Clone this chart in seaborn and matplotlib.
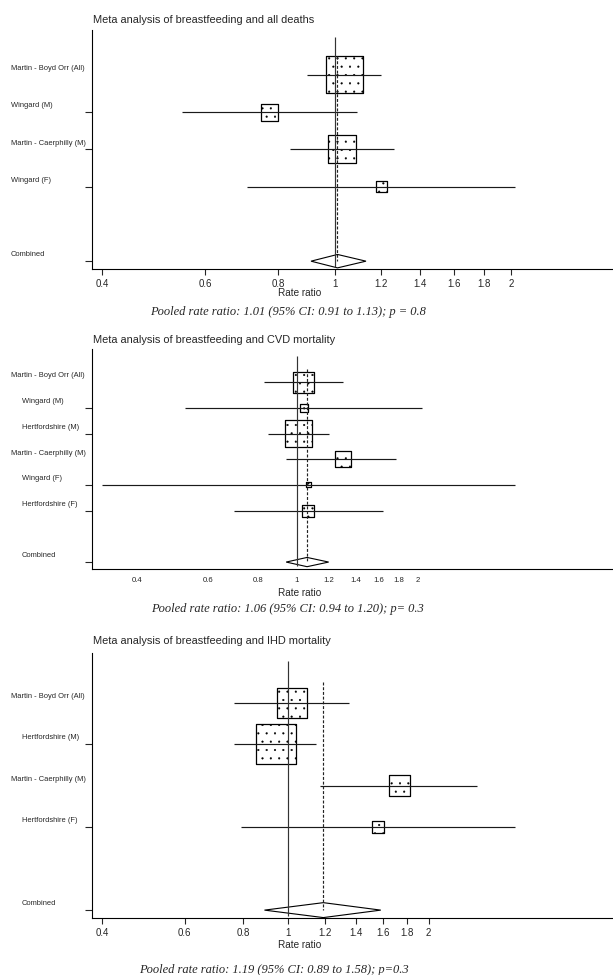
import numpy as np
import matplotlib
matplotlib.use("Agg")
import matplotlib.pyplot as plt
import matplotlib.transforms as mtransforms
import seaborn as sns

# data
# panel 1 - all deaths
studies_all = ["Martin - Boyd Orr (All)", "Wingard (M)", "Martin - Caerphilly (M)", "Wingard (F)"]
rr_all = [1.04, 0.774, 1.03, 1.20]
lo_all = [0.896, 0.548, 0.838, 0.707]
hi_all = [1.20, 1.09, 1.26, 2.03]
wt_all = [37, 17, 28, 11]          # relative box size (weight)
pooled_all = [1.01, 0.91, 1.13]
caption_all = "Pooled rate ratio: 1.01 (95% CI: 0.91 to 1.13); p = 0.8"

# panel 2 - CVD mortality
studies_cvd = ["Martin - Boyd Orr (All)", "Wingard (M)", "Hertfordshire (M)",
               "Martin - Caerphilly (M)", "Wingard (F)", "Hertfordshire (F)"]
rr_cvd = [1.04, 1.04, 1.01, 1.30, 1.07, 1.065]
lo_cvd = [0.827, 0.525, 0.846, 0.94, 0.326, 0.696]
hi_cvd = [1.30, 2.05, 1.20, 1.77, 3.50, 1.64]
wt_cvd = [21, 8, 27, 16, 5, 12]
pooled_cvd = [1.06, 0.94, 1.20]
caption_cvd = "Pooled rate ratio: 1.06 (95% CI: 0.94 to 1.20); p= 0.3"

# panel 3 - IHD mortality
studies_ihd = ["Martin - Boyd Orr (All)", "Hertfordshire (M)",
               "Martin - Caerphilly (M)", "Hertfordshire (F)"]
rr_ihd = [1.02, 0.94, 1.73, 1.56]
lo_ihd = [0.766, 0.766, 1.17, 0.793]
hi_ihd = [1.35, 1.15, 2.54, 3.07]
wt_ihd = [30, 40, 21, 12]
pooled_ihd = [1.19, 0.89, 1.58]
caption_ihd = "Pooled rate ratio: 1.19 (95% CI: 0.89 to 1.58); p=0.3"

tick_vals = [0.4, 0.6, 0.8, 1, 1.2, 1.4, 1.6, 1.8, 2]
tick_labels = ["0.4", "0.6", "0.8", "1", "1.2", "1.4", "1.6", "1.8", "2"]

sns.set_style("ticks")
plt.rcParams["font.family"] = ["Liberation Sans", "DejaVu Sans"]
plt.rcParams["hatch.linewidth"] = 0.3

W, H = 613, 975
fig = plt.figure(figsize=(W / 100, H / 100), dpi=100)


def px_axes(top, bottom):
    return fig.add_axes([92 / W, (H - bottom) / H, (W - 92) / W, (bottom - top) / H])


def draw_panel(ax, title, studies, rr, lo, hi, wt, pooled, caption,
               xlim, pad_top, pad_bot, title_y, cap_x, cap_y, lab_y,
               indent, skip_ticks, tick_fs, tick_len, tick_pad):
    n = len(studies)
    rows = np.arange(1, n + 1)
    comb = n + 2

    # boxes, side proportional to weight
    sns.scatterplot(x=rr, y=rows, ax=ax, marker="s", s=(np.array(wt) * 0.72) ** 2,
                    color="white", edgecolor="black", linewidth=0.9,
                    hatch="..", zorder=2, legend=False)
    # CI lines
    ax.hlines(rows, lo, hi, color="#1a1a1a", lw=0.85, zorder=3)

    # combined diamond
    est, plo, phi = pooled
    h = 0.18
    ax.fill([plo, est, phi, est, plo], [comb, comb - h, comb, comb + h, comb],
            facecolor="white", edgecolor="black", lw=0.8, zorder=2)

    # no-effect line and pooled estimate line
    ax.vlines(1, 0, comb + 0.15, color="#333333", lw=0.85, zorder=3)
    ax.vlines(est, 0.5, comb, color="#222222", lw=0.85, linestyles=(0, (2.5, 1.5)), zorder=3)

    ax.set_xscale("log")
    ax.minorticks_off()
    ax.set_xlim(*xlim)
    ax.set_ylim(comb + pad_bot, 1 - pad_top)
    ax.set_xticks(tick_vals, labels=tick_labels)
    ax.tick_params(axis="x", labelsize=tick_fs, length=tick_len, width=0.8, pad=tick_pad)

    all_rows = list(rows) + [comb]
    tick_rows = [r for i, r in enumerate(all_rows) if i not in skip_ticks]
    ax.set_yticks(tick_rows, labels=[""] * len(tick_rows))
    ax.tick_params(axis="y", length=5, width=0.8)

    for s in ["top", "right"]:
        ax.spines[s].set_visible(False)
    for s in ["left", "bottom"]:
        ax.spines[s].set_linewidth(0.8)
        ax.spines[s].set_color("black")
    ax.set_xlabel("")
    ax.set_ylabel("")

    # study labels at left
    trans = mtransforms.blended_transform_factory(fig.transFigure, ax.transData)
    trans = trans + mtransforms.ScaledTranslation(0, 4.5 / 72, fig.dpi_scale_trans)
    labels = list(studies) + ["Combined"]
    for lab, r in zip(labels, all_rows):
        x0 = 11 if (not indent or lab.startswith("Martin")) else 22
        ax.text(x0 / W, r, lab, transform=trans, fontsize=5.4, ha="left", va="center")

    fig.text(93 / W, 1 - title_y / H, title, fontsize=7.9, ha="left", va="center")
    fig.text(300 / W, 1 - lab_y / H, "Rate ratio", fontsize=7.2, ha="center", va="center")
    fig.text(cap_x / W, 1 - cap_y / H, caption, fontsize=9, ha="center", va="center",
             style="italic", family=["Liberation Serif", "DejaVu Serif"])


ax1 = px_axes(30, 269)
draw_panel(ax1, "Meta analysis of breastfeeding and all deaths", studies_all,
           rr_all, lo_all, hi_all, wt_all, pooled_all, caption_all,
           (0.384, 2.99), 1.2, 0.21, 20, 288, 312, 293,
           False, [0], 7, 4, 3)

ax2 = px_axes(349, 569)
draw_panel(ax2, "Meta analysis of breastfeeding and CVD mortality", studies_cvd,
           rr_cvd, lo_cvd, hi_cvd, wt_cvd, pooled_cvd, caption_cvd,
           (0.308, 6.15), 1.29, 0.27, 340, 287, 609, 593,
           True, [0, 3], 5.6, 0, 6)

ax3 = px_axes(653, 918)
draw_panel(ax3, "Meta analysis of breastfeeding and IHD mortality", studies_ihd,
           rr_ihd, lo_ihd, hi_ihd, wt_ihd, pooled_ihd, caption_ihd,
           (0.380, 4.97), 1.2, 0.19, 641, 274, 970, 945,
           True, [0, 2], 7, 4, 3.5)

fig.savefig("out.png", dpi=100)
